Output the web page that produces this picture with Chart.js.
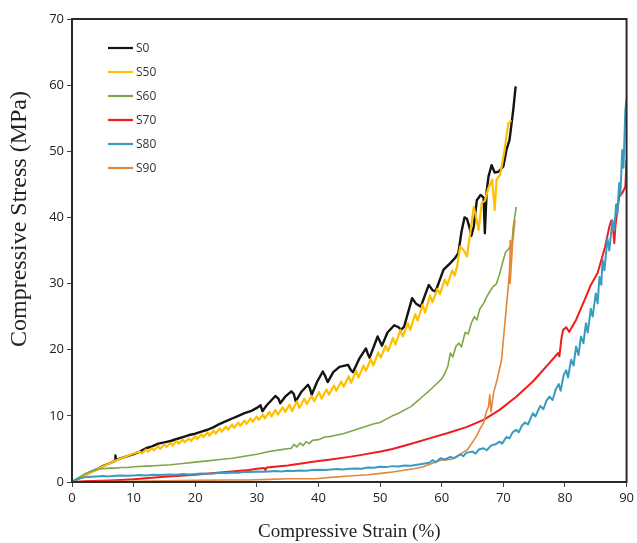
<!DOCTYPE html>
<html>
<head>
<meta charset="utf-8">
<script src="https://cdn.jsdelivr.net/npm/chart.js@4.4.1/dist/chart.umd.min.js"></script>
<style>
  html, body { margin: 0; padding: 0; background: #fff; }
  #wrap { width: 637px; height: 543px; }
</style>
</head>
<body>
<div id="wrap"><canvas id="c" width="637" height="543"></canvas></div>
<script>
// ---- Data: [strain %, stress MPa] ----
const seriesLabels = ['S0', 'S50', 'S60', 'S70', 'S80', 'S90'];

const s0 = [[0,0],[1,0.5],[2,1.0],[3,1.5],[4,1.9],[5,2.4],[6,2.8],[7,3.2],[7.05,4.0],[7.15,3.3],
  [8,3.6],[9,3.9],[10,4.2],[11,4.6],[12,5.1],[13,5.4],[14,5.8],[15,6.0],[16,6.2],[17,6.5],[18,6.8],
  [19,7.1],[20,7.3],[21,7.6],[22,7.9],[23,8.3],[24,8.8],[25,9.2],[26,9.6],[27,10.0],[28,10.4],[29,10.7],
  [30,11.2],[30.6,11.6],[30.9,10.7],[31.6,11.6],[32.4,12.4],[33,13.0],[33.5,12.6],[33.8,11.9],[34.6,12.9],
  [35.6,13.7],[36,13.3],[36.3,12.2],[37.2,13.6],[38.3,14.7],[38.6,14.2],[38.9,13.2],[39.8,15.2],[40.7,16.7],
  [41.1,16.0],[41.5,15.1],[42.4,16.6],[43.4,17.4],[44.8,17.7],[45.2,17.0],[45.6,16.6],[46.6,18.6],[47.7,20.2],
  [48,19.4],[48.3,18.8],[49.6,22.0],[50,21.2],[50.3,20.6],[51.2,22.6],[52.3,23.7],[53,23.4],[53.4,23.0],
  [53.9,23.5],[55.2,27.8],[55.8,27.0],[56.6,26.5],[57.9,29.8],[58.5,29.0],[59,28.8],[60.3,32.1],[61.4,33.1],
  [62.2,33.9],[62.7,34.6],[63.2,37.8],[63.7,40.0],[64.1,39.8],[64.5,38.5],[64.8,37.2],[65.2,38.6],[65.7,42.6],
  [66.3,43.4],[66.8,43.0],[67.0,37.6],[67.3,44.0],[67.6,46.2],[68.1,47.9],[68.6,46.8],[69.2,46.9],[70,47.7],
  [70.5,50.2],[71,51.7],[71.6,56.2],[72,59.8]];

const s50 = [[0,0],[2,1.0],[4,1.9],[6,2.8],[8,3.6],[10,4.3],[11,4.6],[11.3,4.3],[12,4.9],[12.3,4.6],[13,5.1],
  [13.3,4.8],[14,5.4],[14.3,5.0],[15,5.7],[15.3,5.3],[16,5.9],[16.3,5.5],[17,6.2],[17.3,5.8],[18,6.4],[18.3,6.0],
  [19,6.6],[19.3,6.2],[20,6.9],[20.3,6.5],[21,7.2],[21.3,6.8],[22,7.5],[22.3,7.0],[23,7.8],[23.3,7.3],[24,8.1],
  [24.3,7.6],[25,8.4],[25.3,7.9],[26,8.7],[26.3,8.2],[27,9.0],[27.3,8.5],[28,9.3],[28.3,8.8],[29,9.6],[29.3,9.1],
  [30,9.9],[30.3,9.4],[31,10.2],[31.3,9.6],[32,10.6],[32.4,9.9],[33,10.9],[33.4,10.2],[34.2,11.3],[34.6,10.6],
  [35.3,11.7],[35.7,10.7],[36.5,12.2],[36.9,11.2],[37.7,12.6],[38.1,11.8],[38.9,13.0],[39.3,12.2],[40.1,13.6],
  [40.5,12.6],[41.3,14.0],[41.7,13.2],[42.5,14.6],[42.9,13.8],[43.7,15.2],[44.1,14.4],[44.9,16.0],[45.3,15.0],
  [46.1,16.8],[46.5,15.8],[47.3,17.6],[47.7,16.8],[48.5,18.6],[48.9,17.6],[49.7,19.6],[50.1,18.8],[50.9,20.6],
  [51.3,19.8],[52.1,21.8],[52.5,20.8],[53.3,23.0],[53.7,22.0],[54.5,24.0],[54.9,23.0],[55.7,25.4],[56.1,24.4],
  [56.9,26.8],[57.3,25.6],[58.1,28.2],[58.5,27.2],[59.3,29.2],[59.7,28.4],[60.5,30.6],[60.9,29.8],[61.7,32.0],
  [62.1,31.2],[62.5,32.6],[63,35.6],[63.6,35.0],[64.1,34.1],[64.4,36.1],[65.2,41.6],[65.7,39.5],[66,38.1],
  [66.5,42.2],[67,42.5],[67.6,44.5],[68.2,45.7],[68.6,41.1],[68.9,45.7],[69.5,46.5],[70.2,50.2],[70.8,54.2],
  [71.3,54.7]];

const s60 = [[0,0],[1,0.6],[2,1.2],[3,1.6],[4,1.9],[5,2.0],[6,2.1],[7,2.1],[8,2.2],[9,2.2],[10,2.3],[12,2.4],
  [14,2.5],[16,2.6],[18,2.8],[20,3.0],[22,3.2],[24,3.4],[26,3.6],[28,3.9],[30,4.2],[32,4.6],[34,4.9],[35.6,5.1],
  [36,5.7],[36.5,5.3],[37,5.9],[37.5,5.5],[38,6.1],[38.5,5.8],[39,6.3],[40,6.4],[41,6.8],[42,6.9],[43,7.1],
  [44,7.3],[45,7.6],[46,7.9],[47,8.2],[48,8.5],[49,8.8],[50,9.0],[51,9.5],[52,10.0],[53,10.4],[54,10.9],
  [55,11.4],[56,12.2],[57,13.0],[58,13.8],[59,14.7],[60,15.6],[60.5,16.4],[61,17.5],[61.4,19.5],[61.8,18.9],
  [62.3,20.5],[62.8,21.0],[63.2,20.4],[63.8,22.6],[64.3,22.4],[64.8,24.0],[65.3,25.0],[65.7,24.5],[66.2,26.2],
  [66.8,27.0],[67.3,28.0],[67.8,28.8],[68.3,29.5],[68.9,30.0],[69.5,31.8],[70,33.6],[70.4,34.8],[70.8,35.2],
  [71.1,35.6],[71.3,34.8],[71.6,38.5],[72.1,41.6]];

const s70 = [[0,0],[2,0.1],[5,0.2],[8,0.3],[10,0.4],[15,0.8],[20,1.1],[25,1.5],[28.7,1.8],[30,2.0],[31.2,2.1],
  [31.4,1.8],[31.6,2.2],[35,2.5],[39.4,3.1],[42,3.4],[45,3.8],[47,4.1],[50.1,4.6],[52,5.0],[55.5,5.9],[58,6.6],
  [61,7.4],[64,8.3],[66.8,9.4],[69.4,10.9],[72.1,12.9],[74.8,15.2],[77.5,18.0],[78.9,19.5],[79.1,19.0],
  [79.4,21.5],[79.7,23.0],[80.2,23.4],[80.7,22.7],[81.8,24.5],[83.4,28.0],[84.2,29.8],[85.3,31.6],[86.5,35.5],
  [87.2,38.6],[87.5,39.5],[87.8,38.5],[88,36.1],[88.2,38.8],[88.8,43.1],[89.3,43.7],[89.8,44.6],[90,48.7]];

const s80 = [[0,0],[0.5,0.3],[1,0.5],[2,0.7],[3,0.8],[4,0.85],[5,0.9],[6,0.85],[7,0.95],[8,1.0],[9,0.95],
  [10,1.0],[11,1.05],[12,1.0],[13,1.1],[14,1.05],[15,1.1],[16,1.15],[17,1.1],[18,1.2],[19,1.15],[20,1.2],
  [21,1.3],[22,1.25],[23,1.3],[24,1.4],[25,1.35],[26,1.45],[27,1.4],[28,1.55],[29,1.5],[30,1.6],[31,1.55],
  [32,1.6],[33,1.65],[34,1.6],[35,1.7],[36,1.65],[37,1.75],[38,1.7],[39,1.8],[40,1.85],[41,1.8],[42,1.9],
  [43,1.95],[44,1.9],[45,2.0],[46,2.05],[47,2.0],[48,2.2],[49,2.15],[50,2.3],[51,2.25],[52,2.4],[53,2.35],
  [54,2.5],[55,2.45],[56,2.6],[57,2.75],[58,2.9],[58.5,3.3],[59,3.0],[59.8,3.6],[60.5,3.4],[61.4,3.8],[62,3.6],
  [63,4.2],[63.5,3.9],[64,4.4],[65,4.6],[65.5,4.3],[66,4.9],[66.8,5.1],[67.3,4.8],[68,5.5],[68.7,5.7],[69.4,6.1],
  [69.8,5.8],[70.5,6.8],[71,6.6],[71.5,7.5],[72.1,7.9],[72.5,7.5],[73,8.5],[73.5,9.0],[74,8.7],[74.8,10.4],
  [75.2,9.9],[76,11.5],[76.5,11.0],[77,12.3],[77.5,12.9],[78,12.4],[78.5,14.0],[79,14.8],[79.3,13.8],[79.8,16.2],
  [80.2,16.9],[80.5,15.8],[81,18.5],[81.4,17.6],[81.8,20.5],[82.2,19.2],[82.6,22.0],[83,21.0],[83.4,24.0],
  [83.7,22.6],[84.2,26.2],[84.5,25.0],[85,28.5],[85.3,27.0],[85.6,31.0],[85.9,29.8],[86.1,33.6],[86.4,32.0],
  [86.9,36.8],[87.2,35.0],[87.7,39.6],[88,38.0],[88.3,42.0],[88.5,40.5],[88.8,45.2],[89.0,43.5],[89.3,50.2],
  [89.5,47.5],[89.8,56.2],[90,58.0]];

const s90 = [[0,0],[5,0.05],[10,0.1],[15,0.2],[20,0.25],[25,0.3],[28.7,0.3],[32,0.4],[35,0.5],[39.4,0.5],
  [42,0.7],[45,0.9],[48,1.1],[50.1,1.3],[52,1.5],[55.5,2.0],[57,2.3],[59.8,3.3],[61.4,3.4],[62.5,3.8],[63.3,4.4],
  [64.1,4.8],[65,6.0],[65.8,7.2],[66.3,8.2],[66.8,8.9],[67.2,10.5],[67.6,11.4],[67.8,13.2],[68.0,10.6],
  [68.4,13.4],[69,15.5],[69.7,18.4],[70.2,23.5],[70.8,29.5],[71.0,32.0],[71.2,36.5],[71.1,30.0],[71.5,36.0],
  [71.9,39.6]];

const xTicks = { min: 0, max: 90, step: 10 };
const yTicks = { min: 0, max: 70, step: 10 };
const xTitle = 'Compressive Strain (%)';
const yTitle = 'Compressive Stress (MPa)';

// ---- Styles ----
const seriesData = [s0, s50, s60, s70, s80, s90];
const colors = ['#141414', '#FFC000', '#7FA647', '#F01B1B', '#3A9BC1', '#E3873A'];
const widths = [2.4, 2.2, 1.6, 2.0, 2.0, 1.6];
const orders = [6, 5, 4, 3, 1, 2];

const datasets = seriesData.map((arr, i) => ({
  label: seriesLabels[i],
  data: arr.map(p => ({ x: p[0], y: p[1] })),
  borderColor: colors[i],
  backgroundColor: colors[i],
  borderWidth: widths[i],
  showLine: true,
  pointRadius: 0,
  tension: 0,
  borderJoinStyle: 'round',
  order: orders[i]
}));

const framePlugin = {
  id: 'frameAndLegend',
  afterDatasetsDraw(chart) {
    const { ctx, chartArea: a } = chart;
    ctx.save();
    ctx.strokeStyle = '#2b2b2b';
    ctx.lineWidth = 2;
    ctx.strokeRect(a.left, a.top, a.right - a.left, a.bottom - a.top);
    // legend
    ctx.font = '12px "Open Sans", sans-serif';
    ctx.textBaseline = 'middle';
    ctx.textAlign = 'left';
    chart.data.datasets.forEach((ds, i) => {
      const y = 48 + i * 24;
      ctx.strokeStyle = ds.borderColor;
      ctx.lineWidth = 2.2;
      ctx.beginPath();
      ctx.moveTo(108, y);
      ctx.lineTo(133, y);
      ctx.stroke();
      ctx.fillStyle = '#333';
      ctx.fillText(ds.label, 136, y + 1);
    });
    // y axis title (placed as in the reference, above the axis centre)
    ctx.translate(20, 219);
    ctx.rotate(-Math.PI / 2);
    ctx.font = '24px "Liberation Serif", serif';
    ctx.fillStyle = '#222';
    ctx.textAlign = 'center';
    ctx.textBaseline = 'middle';
    ctx.fillText(yTitle, 0, 0);
    ctx.restore();
  }
};

Chart.defaults.font.family = '"Open Sans", sans-serif';

new Chart(document.getElementById('c'), {
  type: 'scatter',
  data: { datasets },
  options: {
    responsive: false,
    animation: false,
    events: [],
    layout: { padding: { top: 19, right: 6, left: 0, bottom: 0 } },
    plugins: { legend: { display: false }, tooltip: { enabled: false } },
    scales: {
      x: {
        type: 'linear', min: xTicks.min, max: xTicks.max,
        ticks: { stepSize: xTicks.step, color: '#222', font: { size: 13 }, padding: 3, maxRotation: 0 },
        grid: { drawOnChartArea: false, drawTicks: true, tickLength: 5, color: '#444', lineWidth: 1 },
        border: { display: true, color: '#2b2b2b', width: 2 },
        title: { display: true, text: xTitle, color: '#222',
                 font: { family: '"Liberation Serif", serif', size: 19 }, padding: { top: 0, bottom: 0 } },
        afterFit(s) { s.height = 61; }
      },
      y: {
        type: 'linear', min: yTicks.min, max: yTicks.max,
        ticks: { stepSize: yTicks.step, color: '#222', font: { size: 13 }, padding: 3 },
        grid: { drawOnChartArea: false, drawTicks: true, tickLength: 5, color: '#444', lineWidth: 1 },
        border: { display: true, color: '#2b2b2b', width: 2 },
        title: { display: false, text: yTitle },
        afterFit(s) { s.width = 72; }
      }
    }
  },
  plugins: [framePlugin]
});
</script>
</body>
</html>
